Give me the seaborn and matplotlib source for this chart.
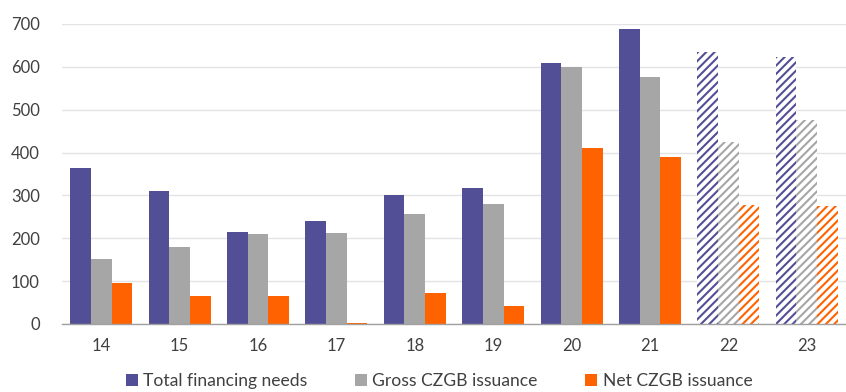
import matplotlib
matplotlib.use("Agg")
import matplotlib.pyplot as plt
import pandas as pd
import seaborn as sns
from matplotlib.patches import Patch
from matplotlib.ticker import FixedLocator

# Czech government financing (CZK bn), by year
years = ["14", "15", "16", "17", "18", "19", "20", "21", "22", "23"]
total_needs = [365, 311, 214, 240, 302, 318, 608, 689, 635, 622]
gross_issuance = [151, 179, 210, 212, 257, 281, 600, 577, 424, 476]
net_issuance = [95, 66, 65, 3, 72, 42, 410, 390, 277, 275]
forecast_years = ["22", "23"]

series_names = ["Total financing needs", "Gross CZGB issuance", "Net CZGB issuance"]
colors = ["#534F96", "#A6A6A6", "#FF6200"]
y_ticks = [0, 100, 200, 300, 400, 500, 600, 700]

df = pd.DataFrame({
    "year": years * 3,
    "series": sum([[s] * len(years) for s in series_names], []),
    "value": total_needs + gross_issuance + net_issuance,
})

sns.set_theme(style="white")
plt.rcParams["font.family"] = ["Lato", "DejaVu Sans"]
plt.rcParams["hatch.linewidth"] = 1.5
text_color = "#404040"

fig = plt.figure(figsize=(8.46, 3.92), dpi=100)
ax = fig.add_axes([62 / 846, 68 / 392, 784 / 846, 300 / 392])

sns.barplot(data=df, x="year", y="value", hue="series", order=years,
            hue_order=series_names, palette=colors, width=0.79,
            saturation=1, ax=ax, legend=False, linewidth=0)

# Forecast years drawn as hatched outlines
for container, col in zip(ax.containers, colors):
    for yr, bar in zip(years, container):
        if yr in forecast_years:
            bar.set_facecolor("white")
            bar.set_edgecolor(col)
            bar.set_hatch("////")
            bar.set_linewidth(0)

ax.set_ylim(0, 700)
ax.set_xlim(-0.5, len(years) - 0.5)
ax.yaxis.set_major_locator(FixedLocator(y_ticks))
ax.grid(axis="y", color="#E3E3E3", linewidth=1.0)
ax.set_axisbelow(True)

for side in ["left", "right", "top"]:
    ax.spines[side].set_visible(False)
ax.spines["bottom"].set_color("#A0A0A0")
ax.spines["bottom"].set_linewidth(1.0)

ax.set_xlabel("")
ax.set_ylabel("")
ax.tick_params(axis="y", length=0, pad=16, labelsize=12, labelcolor=text_color)
ax.tick_params(axis="x", which="major", length=0, pad=10, labelsize=12,
               labelcolor=text_color)
ax.set_xticks([i - 0.5 for i in range(len(years) + 1)], minor=True)
ax.tick_params(axis="x", which="minor", length=6, width=1.0, color="#A0A0A0",
               direction="out")

handles = [Patch(facecolor=c, edgecolor="none") for c in colors]
fig.legend(handles, series_names, loc="center", bbox_to_anchor=(0.519, 0.028),
           ncol=3, frameon=False, fontsize=12.6, handlelength=0.7,
           handleheight=0.7, handletextpad=0.3, columnspacing=2.7,
           labelcolor=text_color, borderpad=0.1)

fig.savefig("out.png", dpi=100)
